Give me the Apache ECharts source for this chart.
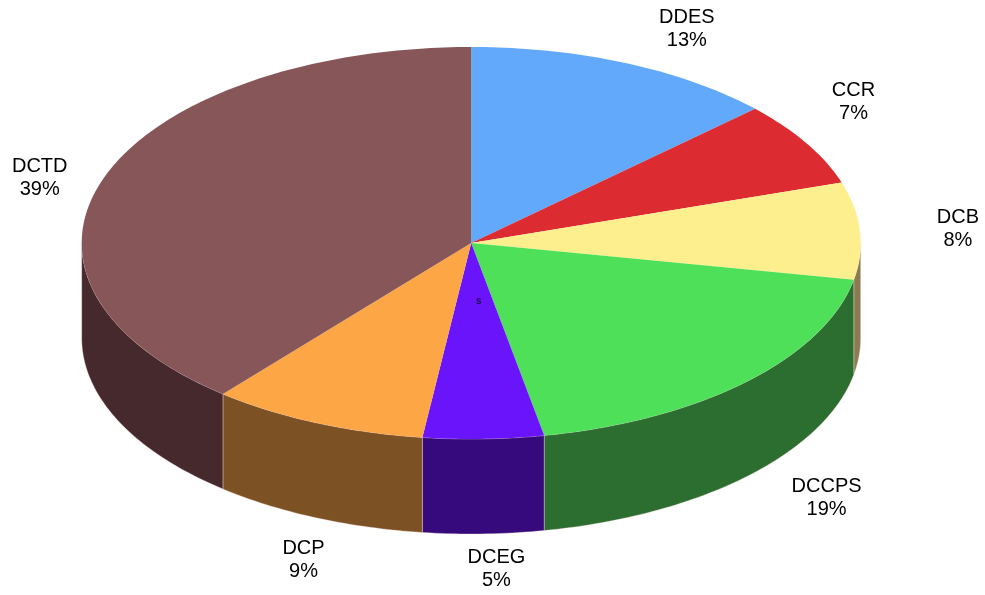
<!DOCTYPE html>
<html><head><meta charset="utf-8">
<script src="https://cdn.jsdelivr.net/npm/echarts@6/dist/echarts.min.js"></script>
<style>html,body{margin:0;padding:0;background:#fff}#c{width:985px;height:595px}</style>
</head><body><div id="c"></div>
<script>
// ---- data ----
const categories = ['DDES', 'CCR', 'DCB', 'DCCPS', 'DCEG', 'DCP', 'DCTD'];
const values = [13, 7, 8, 19, 5, 9, 39];
// ---- styles / layout ----
const topColors = ['#63a9fb', '#dc2c32', '#fdef8e', '#4fe05a', '#6a14fc', '#fca646', '#875658'];
const sideColors = ['#34578a', '#7a181c', '#8a7c50', '#2b6e2f', '#360a7c', '#7c5224', '#45292d'];
const labelOffsets = [[61, -34], [47, -41], [98, -2], [80, 21], [13, 35], [-13, 42], [-65, 1]];

const CX = 471.2, CY = 243, RX = 389.5, RY = 196, DEPTH = 95;
const total = values.reduce((a, b) => a + b, 0);
const starts = [];
let acc = 0;
values.forEach(v => { starts.push(acc); acc += v; });

function pt(t, dy) { return [CX + RX * Math.sin(t), CY - RY * Math.cos(t) + (dy || 0)]; }
function arc(t1, t2, dy) {
  const n = Math.max(2, Math.ceil((t2 - t1) / (Math.PI / 180)));
  const pts = [];
  for (let i = 0; i <= n; i++) pts.push(pt(t1 + (t2 - t1) * i / n, dy));
  return pts;
}
function angles(i) {
  const s = starts[i] / total * 2 * Math.PI;
  const e = (starts[i] + values[i]) / total * 2 * Math.PI;
  return [s, e];
}

const chart = echarts.init(document.getElementById('c'), null, { renderer: 'canvas' });
chart.setOption({
  backgroundColor: '#ffffff',
  animation: false,
  series: [
    {
      type: 'custom',
      coordinateSystem: 'none',
      z: 1,
      silent: true,
      data: values,
      renderItem: function (params, api) {
        const i = params.dataIndex;
        const [s, e] = angles(i);
        const t1 = Math.max(s, Math.PI / 2), t2 = Math.min(e, 3 * Math.PI / 2);
        if (t2 <= t1) return { type: 'group', children: [] };
        const pts = arc(t1, t2, 0).concat(arc(t1, t2, DEPTH).reverse());
        return {
          type: 'polygon',
          shape: { points: pts },
          style: { fill: sideColors[i], stroke: 'rgba(255,225,225,0.45)', lineWidth: 0.8 }
        };
      }
    },
    {
      type: 'custom',
      coordinateSystem: 'none',
      z: 2,
      silent: true,
      data: values,
      renderItem: function (params, api) {
        const i = params.dataIndex;
        const v = api.value(0);
        const [s, e] = angles(i);
        const pts = [[CX, CY]].concat(arc(s, e, 0));
        const mid = (s + e) / 2;
        const front = Math.cos(mid) < 0;
        const edge = pt(mid, front ? DEPTH : 0);
        const pct = Math.round(v / total * 100);
        return {
          type: 'group',
          children: [
            { type: 'polygon', shape: { points: pts }, style: { fill: topColors[i] } },
            {
              type: 'text',
              x: edge[0] + labelOffsets[i][0],
              y: edge[1] + labelOffsets[i][1],
              style: {
                text: categories[i] + '\n' + pct + '%',
                font: '20px "Liberation Sans", Arial, sans-serif',
                fill: '#000000',
                align: 'center',
                verticalAlign: 'middle',
                lineHeight: 23
              }
            }
          ]
        };
      }
    }
  ],
  graphic: [
    {
      type: 'text', left: 476, top: 296, z: 10,
      style: { text: 's', font: 'bold 10px "Liberation Sans", Arial, sans-serif', fill: '#2a0a5a' }
    }
  ]
});
</script>
</body></html>
